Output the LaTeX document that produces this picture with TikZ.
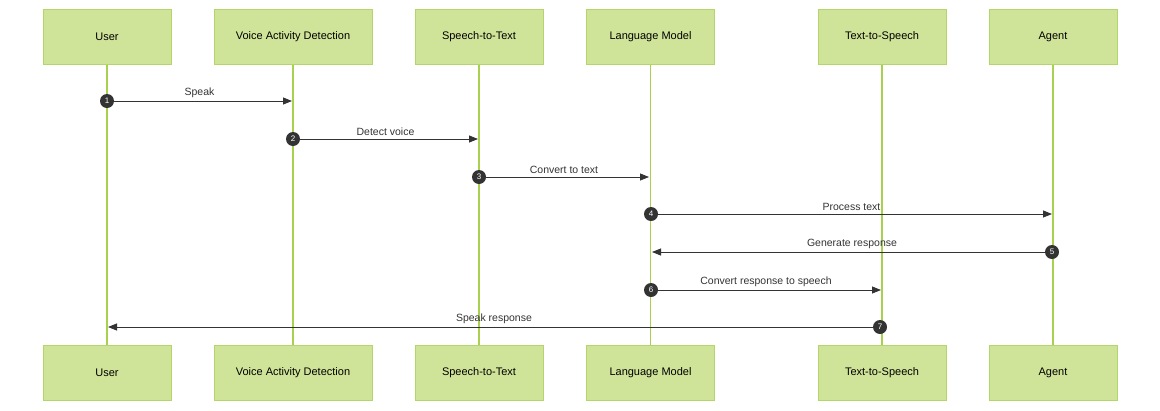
\documentclass[tikz,border=0pt]{standalone}
\usepackage{fontspec}
\setmainfont{Liberation Sans}
\usetikzlibrary{arrows.meta}
\definecolor{boxfill}{HTML}{D0E499}
\definecolor{boxline}{HTML}{B3D66A}
\definecolor{life}{HTML}{A9D04F}
\definecolor{ink}{HTML}{333333}
\begin{document}
\begin{tikzpicture}[x=1pt,y=-1pt,
  box/.style={draw=boxline,fill=boxfill,line width=1pt,minimum width=128pt,minimum height=55pt,inner sep=0pt,font=\fontsize{11pt}{13pt}\selectfont},
  wbox/.style={box,minimum width=158pt},
  lifeline/.style={draw=life,line width=1.5pt},
  msg/.style={draw=ink,line width=0.8pt,-{Triangle[length=9pt,width=7pt]}},
  lab/.style={font=\fontsize{10.5pt}{12pt}\selectfont,text=ink,above,inner sep=3pt},
  num/.style={circle,fill=ink,text=white,inner sep=0pt,minimum size=14pt,font=\fontsize{8pt}{9pt}\selectfont}]
\useasboundingbox (0,0) rectangle (1160,410);
\foreach \n/\x/\t/\s in {u/107/User/box,v/293/Voice Activity Detection/wbox,s/479/Speech-to-Text/box,l/650.5/Language Model/box,t/882/Text-to-Speech/box,a/1053/Agent/box}{
  \node[\s] (\n1) at (\x,36.5) {\t};
  \node[\s] (\n2) at (\x,372.5) {\t};
  \draw[lifeline] (\n1.south) -- (\n2.north);
}
\coordinate (m1s) at (107,101); \coordinate (m1e) at (292,101);
\coordinate (m2s) at (293,139); \coordinate (m2e) at (478,139);
\coordinate (m3s) at (479,177); \coordinate (m3e) at (649,177);
\coordinate (m4s) at (651,214); \coordinate (m4e) at (1052,214);
\coordinate (m5s) at (1052,252); \coordinate (m5e) at (652,252);
\coordinate (m6s) at (651,290); \coordinate (m6e) at (881,290);
\coordinate (m7s) at (880,327); \coordinate (m7e) at (108,327);
\foreach \i/\t in {1/Speak,2/Detect voice,3/Convert to text,4/Process text,5/Generate response,6/Convert response to speech,7/Speak response}{
  \draw[msg] (m\i s) -- node[lab] {\t} (m\i e);
  \node[num] (c\i) at (m\i s) {\i};
}
\end{tikzpicture}
\end{document}
